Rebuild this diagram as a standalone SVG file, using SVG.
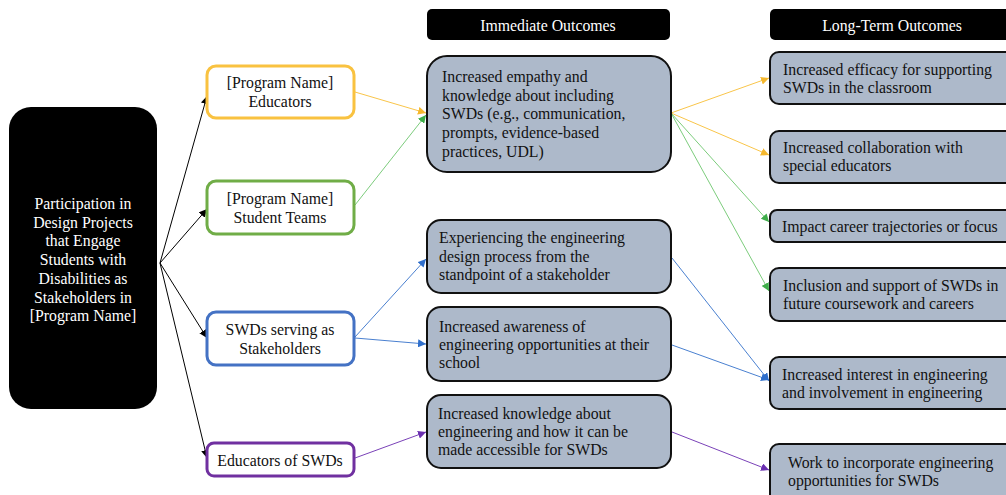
<svg xmlns="http://www.w3.org/2000/svg" width="1006" height="495" viewBox="0 0 1006 495">
<defs>
<style>
text{font-family:"Liberation Serif","Times New Roman",serif;font-size:15.8px;fill:#111}
.w{fill:#fff}
.c{text-anchor:middle}
.src{fill:#fff;stroke-width:3}
.out{fill:#adb9ca;stroke:#111;stroke-width:2}
.hdr{fill:#000}
.k{stroke:#000;stroke-width:1;fill:none}
.y{stroke:#f9c54a;stroke-width:1;fill:none}
.g{stroke:#7ccc7c;stroke-width:1;fill:none}
.b{stroke:#4a80d0;stroke-width:1;fill:none}
.p{stroke:#7a42b8;stroke-width:1;fill:none}
</style>
<marker id="mk" viewBox="0 0 10 10" refX="10" refY="5" markerWidth="8" markerHeight="8" markerUnits="userSpaceOnUse" orient="auto"><path d="M0,0L10,5L0,10z" fill="#000"/></marker>
<marker id="my" viewBox="0 0 10 10" refX="10" refY="5" markerWidth="8" markerHeight="8" markerUnits="userSpaceOnUse" orient="auto"><path d="M0,0L10,5L0,10z" fill="#f5b82e"/></marker>
<marker id="mg" viewBox="0 0 10 10" refX="10" refY="5" markerWidth="8" markerHeight="8" markerUnits="userSpaceOnUse" orient="auto"><path d="M0,0L10,5L0,10z" fill="#3fae4a"/></marker>
<marker id="mb" viewBox="0 0 10 10" refX="10" refY="5" markerWidth="8" markerHeight="8" markerUnits="userSpaceOnUse" orient="auto"><path d="M0,0L10,5L0,10z" fill="#2f6fcc"/></marker>
<marker id="mp" viewBox="0 0 10 10" refX="10" refY="5" markerWidth="8" markerHeight="8" markerUnits="userSpaceOnUse" orient="auto"><path d="M0,0L10,5L0,10z" fill="#6a2fb0"/></marker>
</defs>
<rect width="1006" height="495" fill="#fff"/>

<g id="connectors">
<line class="k" x1="160" y1="263" x2="207" y2="96" marker-end="url(#mk)"/>
<line class="k" x1="160" y1="263" x2="207" y2="209" marker-end="url(#mk)"/>
<line class="k" x1="160" y1="263" x2="207" y2="338" marker-end="url(#mk)"/>
<line class="k" x1="160" y1="263" x2="207" y2="458" marker-end="url(#mk)"/>
<line class="y" x1="355" y1="92" x2="426" y2="113" marker-end="url(#my)"/>
<line class="g" x1="355" y1="205" x2="426" y2="115" marker-end="url(#mg)"/>
<line class="y" x1="671" y1="113" x2="769" y2="78" marker-end="url(#my)"/>
<line class="y" x1="671" y1="113" x2="769" y2="155" marker-end="url(#my)"/>
<line class="g" x1="671" y1="113" x2="769" y2="222" marker-end="url(#mg)"/>
<line class="g" x1="671" y1="113" x2="769" y2="291" marker-end="url(#mg)"/>
<line class="b" x1="355" y1="337" x2="426" y2="259" marker-end="url(#mb)"/>
<line class="b" x1="355" y1="338" x2="426" y2="344" marker-end="url(#mb)"/>
<line class="b" x1="672" y1="258" x2="769" y2="381" marker-end="url(#mb)"/>
<line class="b" x1="672" y1="345" x2="769" y2="380" marker-end="url(#mb)"/>
<line class="p" x1="355" y1="458" x2="426" y2="432" marker-end="url(#mp)"/>
<line class="p" x1="672" y1="432" x2="769" y2="470" marker-end="url(#mp)"/>
</g>

<g id="program">
<rect x="9" y="107" width="148" height="302" rx="22" fill="#000"/>
<text class="w c" x="83" y="209">Participation in</text>
<text class="w c" x="83" y="228">Design Projects</text>
<text class="w c" x="83" y="246">that Engage</text>
<text class="w c" x="83" y="265">Students with</text>
<text class="w c" x="83" y="284">Disabilities as</text>
<text class="w c" x="83" y="303">Stakeholders in</text>
<text class="w c" x="83" y="321">[Program Name]</text>
</g>

<g id="educators">
<rect class="src" x="207" y="66" width="147" height="52" rx="9" stroke="#f9c240"/>
<text class="c" x="280" y="88">[Program Name]</text>
<text class="c" x="280" y="107">Educators</text>
</g>
<g id="teams">
<rect class="src" x="207" y="181" width="147" height="53" rx="9" stroke="#70ad47"/>
<text class="c" x="280" y="204">[Program Name]</text>
<text class="c" x="280" y="223">Student Teams</text>
</g>
<g id="swds">
<rect class="src" x="207" y="312" width="147" height="53" rx="9" stroke="#4472c4"/>
<text class="c" x="280" y="335">SWDs serving as</text>
<text class="c" x="280" y="354">Stakeholders</text>
</g>
<g id="edswds">
<rect class="src" x="207" y="443" width="147" height="33" rx="7" stroke="#7030a0"/>
<text class="c" x="280" y="466">Educators of SWDs</text>
</g>

<g id="hdr-immediate">
<rect class="hdr" x="427" y="9" width="243" height="31" rx="5"/>
<text class="w c" x="548" y="31">Immediate Outcomes</text>
</g>
<g id="hdr-long">
<rect class="hdr" x="770" y="9" width="250" height="31" rx="5"/>
<text class="w c" x="892" y="31">Long-Term Outcomes</text>
</g>

<g id="im1">
<rect class="out" x="427" y="56" width="244" height="116" rx="20"/>
<text x="442" y="82">Increased empathy and</text>
<text x="442" y="101">knowledge about including</text>
<text x="442" y="119">SWDs (e.g., communication,</text>
<text x="442" y="138">prompts, evidence-based</text>
<text x="442" y="157">practices, UDL)</text>
</g>
<g id="im2">
<rect class="out" x="427" y="220" width="244" height="73" rx="14"/>
<text x="439" y="243">Experiencing the engineering</text>
<text x="439" y="262">design process from the</text>
<text x="439" y="280">standpoint of a stakeholder</text>
</g>
<g id="im3">
<rect class="out" x="427" y="307" width="244" height="74" rx="14"/>
<text x="439" y="332">Increased awareness of</text>
<text x="439" y="350">engineering opportunities at their</text>
<text x="439" y="368">school</text>
</g>
<g id="im4">
<rect class="out" x="427" y="395" width="244" height="73" rx="14"/>
<text x="438" y="419">Increased knowledge about</text>
<text x="438" y="437">engineering and how it can be</text>
<text x="438" y="455">made accessible for SWDs</text>
</g>

<g id="lt1">
<rect class="out" x="770" y="52" width="250" height="52" rx="9"/>
<text x="783" y="75">Increased efficacy for supporting</text>
<text x="783" y="93">SWDs in the classroom</text>
</g>
<g id="lt2">
<rect class="out" x="770" y="131" width="250" height="52" rx="9"/>
<text x="783" y="153">Increased collaboration with</text>
<text x="783" y="171">special educators</text>
</g>
<g id="lt3">
<rect class="out" x="770" y="210" width="250" height="32" rx="7"/>
<text x="782" y="232">Impact career trajectories or focus</text>
</g>
<g id="lt4">
<rect class="out" x="770" y="268" width="250" height="53" rx="9"/>
<text x="783" y="291">Inclusion and support of SWDs in</text>
<text x="783" y="309">future coursework and careers</text>
</g>
<g id="lt5">
<rect class="out" x="770" y="357" width="250" height="52" rx="9"/>
<text x="782" y="380">Increased interest in engineering</text>
<text x="782" y="398">and involvement in engineering</text>
</g>
<g id="lt6">
<rect class="out" x="770" y="444" width="250" height="60" rx="9"/>
<text x="788" y="468">Work to incorporate engineering</text>
<text x="788" y="486">opportunities for SWDs</text>
</g>
</svg>
